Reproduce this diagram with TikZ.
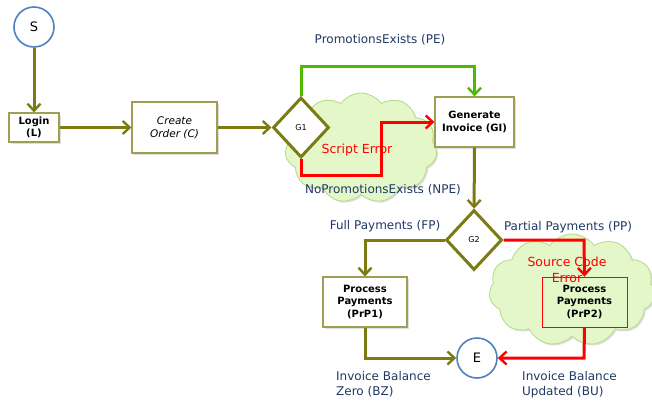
\documentclass[tikz,border=0pt]{standalone}
\usepackage{fontspec}
\setmainfont{DejaVu Sans}
\usetikzlibrary{arrows.meta,shapes.geometric,shapes.symbols,shadows}
\definecolor{olive}{HTML}{7B7B14}
\definecolor{boxline}{HTML}{9E9E55}
\definecolor{pegreen}{HTML}{4CBB00}
\definecolor{errred}{HTML}{FF0000}
\definecolor{circblue}{HTML}{4F81BD}
\definecolor{labblue}{HTML}{1F3864}
\definecolor{cloudfill}{HTML}{E4F7C8}
\definecolor{cloudline}{HTML}{B8DC90}
\tikzset{
  shad/.style={drop shadow={opacity=0.25,shadow xshift=1.5pt,shadow yshift=-1.5pt}},
  stepbox/.style={draw=boxline,line width=1.1pt,fill=white,shad,align=center,font=\fontsize{10}{12.5}\selectfont\bfseries,inner sep=0pt},
  gate/.style={diamond,draw=olive,line width=3pt,fill=white,inner sep=0pt,minimum width=56pt,minimum height=60pt,font=\fontsize{8}{9}\selectfont},
  endpt/.style={circle,draw=circblue,line width=1.6pt,fill=white,minimum size=40pt,inner sep=0pt,font=\fontsize{13}{14}\selectfont},
  errcloud/.style={cloud,cloud puffs=11,cloud puff arc=110,aspect=1.4,draw=cloudline,line width=0.9pt,fill=cloudfill,inner sep=0pt,shad},
  flow/.style={line width=3pt,-{Straight Barb[length=7pt,width=13pt,line width=2.4pt]}},
  oflow/.style={flow,draw=olive},
  gflow/.style={flow,draw=pegreen},
  rflow/.style={flow,draw=errred},
  lab/.style={text=labblue,font=\fontsize{12}{15}\selectfont,inner sep=0pt},
  errlab/.style={text=errred,font=\fontsize{12.5}{14}\selectfont,inner sep=0pt,align=center}
}
\begin{document}
\begin{tikzpicture}[x=1pt,y=-1pt]
\useasboundingbox (0,0) rectangle (652,402);
% clouds
\node[errcloud,minimum width=152pt,minimum height=110pt] (c1) at (361,148) {};
\node[errcloud,minimum width=166pt,minimum height=112pt] (c2) at (572,290) {};
% nodes
\node[endpt] (S) at (34,27) {S};
\node[stepbox,minimum width=50pt,minimum height=29pt] (L) at (34,127.5) {Login\\(L)};
\node[stepbox,minimum width=85pt,minimum height=51pt,font=\fontsize{10.5}{13}\selectfont\itshape] (C) at (174.5,127.5) {Create\\Order (C)};
\node[gate] (G1) at (301,127.5) {G1};
\node[stepbox,minimum width=79pt,minimum height=50pt] (GI) at (474.5,122) {Generate\\Invoice (GI)};
\node[gate] (G2) at (474,240) {G2};
\node[stepbox,minimum width=84pt,minimum height=50pt] (P1) at (365,302) {Process\\Payments\\(PrP1)};
\node[draw=errred,line width=0.8pt,minimum width=85pt,minimum height=50pt,align=center,font=\fontsize{10}{12.5}\selectfont\bfseries,inner sep=0pt] (P2) at (584.5,302) {Process\\Payments\\(PrP2)};
\node[endpt] (E) at (477,358) {E};
% coordinates
\coordinate (pe) at (301,66);
\coordinate (npe1) at (301,175);
\coordinate (npe2) at (381,175);
\coordinate (fp) at (365,240);
\coordinate (pp) at (584,240);
\coordinate (bz) at (365,358);
\coordinate (bu) at (584,358);
% connectors
\draw[oflow] (S) -- (L);
\draw[oflow] (L) -- (C);
\draw[oflow] (C) -- (G1);
\draw[gflow] (G1.north) -- (pe) -| (GI.north);
\draw[rflow] (G1.south) -- (npe1) -- (npe2) |- (GI.west);
\draw[oflow] (GI) -- (G2);
\draw[oflow] (G2.west) -- (fp) -- (P1.north);
\draw[rflow] (G2.east) -- (pp) -- (P2.north);
\draw[oflow] (P1.south) -- (bz) -- (E.west);
\draw[rflow] (P2.south) -- (bu) -- (E.east);
% labels
\node[lab] (lpe) at (380,40) {PromotionsExists (PE)};
\node[errlab] (lse) at (357,150) {Script Error};
\node[lab] (lnpe) at (383,190) {NoPromotionsExists (NPE)};
\node[lab] (lfp) at (385,226) {Full Payments (FP)};
\node[lab] (lpp) at (568,227) {Partial Payments (PP)};
\node[errlab,font=\fontsize{12.5}{16}\selectfont] (lsce) at (567,270) {Source Code\\Error};
\node[lab,anchor=north west,align=left] (lbz) at (336,371) {Invoice Balance\\Zero (BZ)};
\node[lab,anchor=north west,align=left] (lbu) at (522,371) {Invoice Balance\\Updated (BU)};
\end{tikzpicture}
\end{document}
